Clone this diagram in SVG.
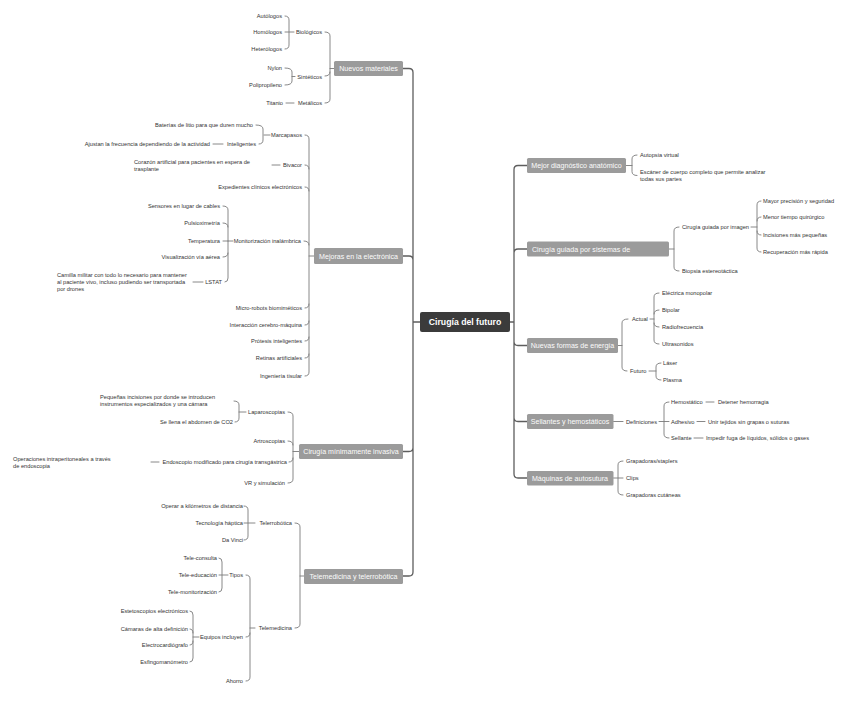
<svg xmlns="http://www.w3.org/2000/svg" width="848" height="715" viewBox="0 0 848 715">
<style>
.t{font-family:"Liberation Sans",Arial,sans-serif;font-size:5.7px;fill:#333}
.e{text-anchor:end}
.tb{font-family:"Liberation Sans",Arial,sans-serif;font-size:7.1px;fill:#fbfbfb;text-anchor:middle}
.box{fill:#9b9b9b}
.c{fill:none;stroke:#7a7a7a;stroke-width:0.9;stroke-linecap:round}
.trunk{fill:none;stroke:#5e5e5e;stroke-width:1.3}
</style>
<rect width="848" height="715" fill="#ffffff"/>
<g id="connectors">
<path class="trunk" d="M403,68.5 L409,68.5 Q413,68.5 413,72.5 L413,572 Q413,576 409,576 L403,576 M403,256 L409,256 Q413,256 413,260 M403,451.5 L409,451.5 Q413,451.5 413,447.5 M420,322 L413,322"/>
<path class="trunk" d="M527,165.5 L518,165.5 Q514,165.5 514,169.5 L514,474 Q514,478 518,478 L527,478 M527,249 L518,249 Q514,249 514,253 M527,345.5 L518,345.5 Q514,345.5 514,341.5 M527,421.5 L518,421.5 Q514,421.5 514,417.5 M510,322 L514,322"/>
<!-- Nuevos materiales -->
<path class="c" d="M330,68.5 L334,68.5 M325,32 Q330,32 330,36 L330,99 Q330,103 325,103 M325,76 Q330,76 330,72"/>
<path class="c" d="M285,16 Q289,16 289,20 L289,45 Q289,49 285,49 M285,32 L294,32"/>
<path class="c" d="M285,68 Q292,68 292,72 L292,81 Q292,85 285,85 M292,76.5 L295,76.5"/>
<path class="c" d="M286,103 L294,103"/>
<!-- Mejoras -->
<path class="c" d="M309,256 L314,256 M305,135 Q309,135 309,139 L309,372 Q309,376 305,376 M305,165 Q309,165 309,169 M305,187 Q309,187 309,191 M304,241 Q309,241 309,245 M305,308 Q309,308 309,304 M305,325 Q309,325 309,321 M305,341 Q309,341 309,337 M305,358 Q309,358 309,354"/>
<path class="c" d="M264,135 L270,135 M256,125 Q263,125 263,129 L263,140 Q263,144 259,144"/>
<path class="c" d="M213,144 L223,144"/>
<path class="c" d="M272,165 L280,165"/>
<path class="c" d="M228,241 L233,241 M223,206 Q228,206 228,210 L228,278 Q228,282 225,282 M223,223 Q228,223 228,227 M223,241 L228,241 M223,257 Q228,257 228,253"/>
<path class="c" d="M193,282 L203,282"/>
<!-- Cirugia minimamente invasiva -->
<path class="c" d="M293,451.5 L299,451.5 M288,412 Q293,412 293,416 L293,479 Q293,483 288,483 M288,441 Q293,441 293,445 M289,462 Q293,462 293,458"/>
<path class="c" d="M239,412 L246,412 M234,401 Q239,401 239,405 L239,418 Q239,422 235,422"/>
<path class="c" d="M151,462 L159,462"/>
<!-- Telemedicina -->
<path class="c" d="M300,576 L304,576 M295,523 Q300,523 300,527 L300,624 Q300,628 295,628"/>
<path class="c" d="M244,506 Q248,506 248,510 L248,536 Q248,540 244,540 M244,523 L255,523"/>
<path class="c" d="M250,628 L255,628 M246,575 Q250,575 250,579 L250,677 Q250,681 246,681 M246,637 Q250,637 250,633"/>
<path class="c" d="M219,558 Q222,558 222,562 L222,588 Q222,592 219,592 M219,575 L228,575"/>
<path class="c" d="M193,637 L199,637 M190,611 Q193,611 193,615 L193,658 Q193,662 190,662 M190,629 Q193,629 193,633 M190,645 Q193,645 193,641"/>
<!-- Right side -->
<path class="c" d="M626,165.5 L632,165.5 M637,155 Q632,155 632,159 L632,171.5 Q632,175.5 637,175.5"/>
<path class="c" d="M669,249 L674,249 M679,227 Q674,227 674,231 L674,267 Q674,271 679,271"/>
<path class="c" d="M751,227 L757,227 M761,201 Q757,201 757,205 L757,248 Q757,252 761,252 M761,217 Q757,217 757,221 M761,235 Q757,235 757,231"/>
<path class="c" d="M618,345.5 L622,345.5 M628,319 Q622,319 622,323 L622,367 Q622,371 627,371"/>
<path class="c" d="M650,319 L654,319 M659,293 Q654,293 654,297 L654,340 Q654,344 659,344 M659,310 Q654,310 654,314 M659,327 Q654,327 654,323"/>
<path class="c" d="M649,371 L656,371 M661,363 Q656,363 656,367 L656,376 Q656,380 661,380"/>
<path class="c" d="M613.5,421.5 L623,421.5 M659,421.5 L669,421.5 M669,402 Q664,402 664,406 L664,434 Q664,438 669,438"/>
<path class="c" d="M706,402 L714,402 M697,421.5 L705,421.5 M694,438 L703,438"/>
<path class="c" d="M613.5,478 L623,478 M623,461 Q618,461 618,465 L618,491 Q618,495 623,495"/>
</g>
<g id="central">
<rect x="420" y="312" width="90" height="20" rx="2" fill="#3b3b3b"/>
<text x="465" y="325" style="font-family:'Liberation Sans',Arial,sans-serif;font-size:8.7px;font-weight:bold;fill:#ffffff;text-anchor:middle">Cirugía del futuro</text>
</g>
<g id="nuevos-materiales">
<rect class="box" x="334" y="61" width="69" height="15" rx="1.5"/>
<text class="tb" x="368.5" y="71">Nuevos materiales</text>
<text class="t e" x="322" y="34">Biológicos</text>
<text class="t e" x="282" y="18">Autólogos</text>
<text class="t e" x="282" y="34">Homólogos</text>
<text class="t e" x="282" y="51">Heterólogos</text>
<text class="t e" x="322" y="78.5">Sintéticos</text>
<text class="t e" x="282" y="70">Nylon</text>
<text class="t e" x="282" y="87">Polipropileno</text>
<text class="t e" x="322" y="105">Metálicos</text>
<text class="t e" x="283" y="105">Titanio</text>
</g>
<g id="mejoras-electronica">
<rect class="box" x="314" y="248" width="89" height="16" rx="1.5"/>
<text class="tb" x="358.5" y="258.5">Mejoras en la electrónica</text>
<text class="t e" x="302" y="137">Marcapasos</text>
<text class="t e" x="253" y="127">Baterías de litio para que duren mucho</text>
<text class="t e" x="256" y="146">Inteligentes</text>
<text class="t e" x="210" y="146">Ajustan la frecuencia dependiendo de la actividad</text>
<text class="t e" x="302" y="167">Bivacor</text>
<text class="t" x="134" y="164">Corazón artificial para pacientes en espera de</text>
<text class="t" x="134" y="171">trasplante</text>
<text class="t e" x="302" y="189">Expedientes clínicos electrónicos</text>
<text class="t e" x="301" y="243">Monitorización inalámbrica</text>
<text class="t e" x="220" y="208">Sensores en lugar de cables</text>
<text class="t e" x="220" y="225">Pulsioximetría</text>
<text class="t e" x="220" y="243">Temperatura</text>
<text class="t e" x="220" y="259">Visualización vía aérea</text>
<text class="t e" x="222" y="284">LSTAT</text>
<text class="t" x="57" y="277">Camilla militar con todo lo necesario para mantener</text>
<text class="t" x="57" y="284">al paciente vivo, incluso pudiendo ser transportada</text>
<text class="t" x="57" y="291">por drones</text>
<text class="t e" x="302" y="310">Micro-robots biomiméticos</text>
<text class="t e" x="302" y="327">Interacción cerebro-máquina</text>
<text class="t e" x="302" y="343">Prótesis inteligentes</text>
<text class="t e" x="302" y="360">Retinas artificiales</text>
<text class="t e" x="302" y="378">Ingeniería tisular</text>
</g>
<g id="cirugia-minimamente-invasiva">
<rect class="box" x="299" y="444" width="104" height="15" rx="1.5"/>
<text class="tb" x="351" y="454">Cirugía mínimamente invasiva</text>
<text class="t e" x="285" y="414">Laparoscopias</text>
<text class="t" x="100" y="399">Pequeñas incisiones por donde se introducen</text>
<text class="t" x="100" y="406">instrumentos especializados y una cámara</text>
<text class="t e" x="233" y="424">Se llena el abdomen de CO2</text>
<text class="t e" x="285" y="443">Artroscopias</text>
<text class="t e" x="287" y="464">Endoscopio modificado para cirugía transgástrica</text>
<text class="t" x="13" y="461">Operaciones intraperitoneales a través</text>
<text class="t" x="13" y="468">de endoscopia</text>
<text class="t e" x="285" y="485">VR y simulación</text>
</g>
<g id="telemedicina-telerrobotica">
<rect class="box" x="304" y="569" width="99" height="15" rx="1.5"/>
<text class="tb" x="353.5" y="579">Telemedicina y telerrobótica</text>
<text class="t e" x="292" y="525">Telerrobótica</text>
<text class="t e" x="243" y="508">Operar a kilómetros de distancia</text>
<text class="t e" x="243" y="525">Tecnología háptica</text>
<text class="t e" x="243" y="542">Da Vinci</text>
<text class="t e" x="292" y="630">Telemedicina</text>
<text class="t e" x="243" y="577">Tipos</text>
<text class="t e" x="217" y="560">Tele-consulta</text>
<text class="t e" x="217" y="577">Tele-educación</text>
<text class="t e" x="217" y="594">Tele-monitorización</text>
<text class="t e" x="243" y="639">Equipos incluyen</text>
<text class="t e" x="188" y="613">Estetoscopios electrónicos</text>
<text class="t e" x="188" y="631">Cámaras de alta definición</text>
<text class="t e" x="188" y="647">Electrocardiógrafo</text>
<text class="t e" x="188" y="664">Esfingomanómetro</text>
<text class="t e" x="243" y="683">Ahorro</text>
</g>
<g id="mejor-diagnostico">
<rect class="box" x="527" y="158" width="99" height="15" rx="1.5"/>
<text class="tb" x="576.5" y="168">Mejor diagnóstico anatómico</text>
<text class="t" x="640" y="157">Autopsia virtual</text>
<text class="t" x="640" y="174">Escáner de cuerpo completo que permite analizar</text>
<text class="t" x="640" y="181">todas sus partes</text>
</g>
<g id="cirugia-guiada">
<rect class="box" x="527" y="241.5" width="142" height="15" rx="1.5"/>
<text class="tb" x="532" y="251.5" style="text-anchor:start">Cirugía guiada por sistemas de</text>
<text class="t" x="682" y="229">Cirugía guiada por imagen</text>
<text class="t" x="763" y="203">Mayor precisión y seguridad</text>
<text class="t" x="763" y="219">Menor tiempo quirúrgico</text>
<text class="t" x="763" y="237">Incisiones más pequeñas</text>
<text class="t" x="763" y="254">Recuperación más rápida</text>
<text class="t" x="682" y="273">Biopsia estereotáctica</text>
</g>
<g id="nuevas-formas-energia">
<rect class="box" x="527" y="338" width="91" height="15" rx="1.5"/>
<text class="tb" x="572.5" y="348">Nuevas formas de energía</text>
<text class="t" x="632" y="321">Actual</text>
<text class="t" x="662" y="295">Eléctrica monopolar</text>
<text class="t" x="662" y="312">Bipolar</text>
<text class="t" x="662" y="329">Radiofrecuencia</text>
<text class="t" x="662" y="346">Ultrasonidos</text>
<text class="t" x="630" y="373">Futuro</text>
<text class="t" x="663" y="365">Láser</text>
<text class="t" x="663" y="382">Plasma</text>
</g>
<g id="sellantes-hemostaticos">
<rect class="box" x="527" y="414" width="86.5" height="15" rx="1.5"/>
<text class="tb" x="570" y="424">Sellantes y hemostáticos</text>
<text class="t" x="626" y="423.5">Definiciones</text>
<text class="t" x="671" y="404">Hemostático</text>
<text class="t" x="718" y="404">Detener hemorragia</text>
<text class="t" x="671" y="423.5">Adhesivo</text>
<text class="t" x="708" y="423.5">Unir tejidos sin grapas o suturas</text>
<text class="t" x="671" y="440">Sellante</text>
<text class="t" x="706" y="440">Impedir fuga de líquidos, sólidos o gases</text>
</g>
<g id="maquinas-autosutura">
<rect class="box" x="527" y="471" width="86.5" height="14.5" rx="1.5"/>
<text class="tb" x="570" y="480.5">Máquinas de autosutura</text>
<text class="t" x="626" y="463">Grapadoras/staplers</text>
<text class="t" x="626" y="480">Clips</text>
<text class="t" x="626" y="497">Grapadoras cutáneas</text>
</g>
</svg>
